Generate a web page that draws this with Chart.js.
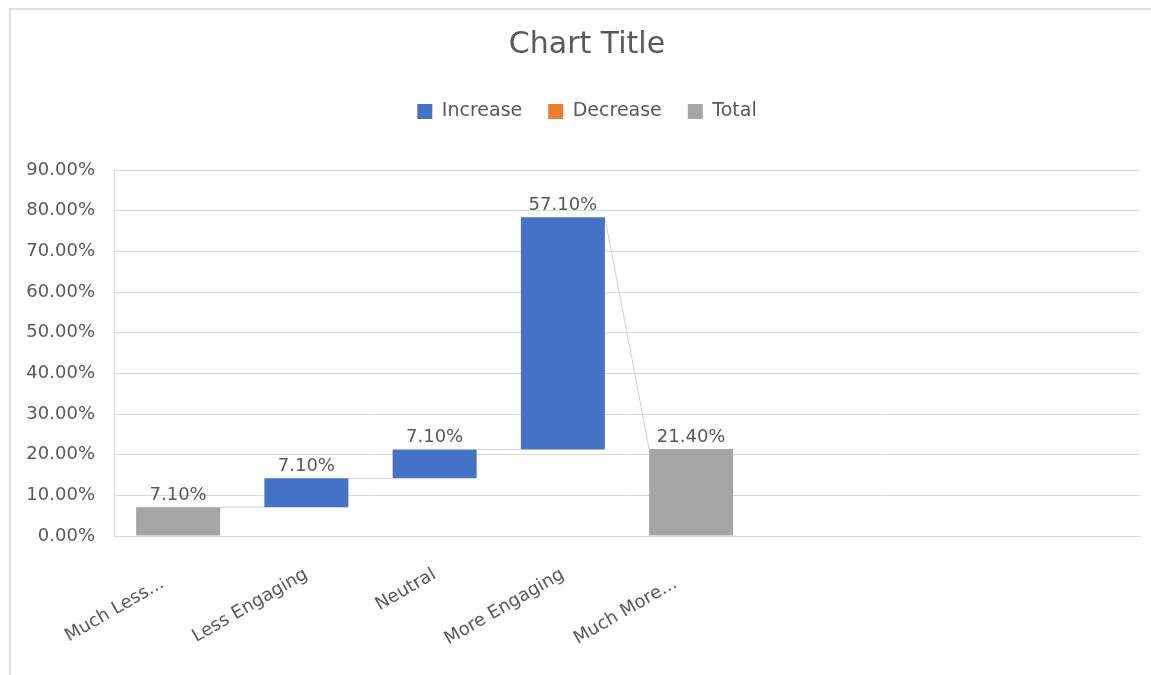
<!DOCTYPE html>
<html>
<head>
<meta charset="utf-8">
<script src="https://cdn.jsdelivr.net/npm/chart.js@4.4.1/dist/chart.umd.min.js"></script>
<style>
  html, body { margin: 0; padding: 0; background: #fff; overflow: hidden; width: 1151px; height: 675px; }
  #frame { position: absolute; left: 9px; top: 8px; width: 1200px; height: 700px;
           border-left: 2px solid #dedede; border-top: 2px solid #dedede; }
  #wrap { position: absolute; left: 10px; top: 9px; width: 1154px; height: 666px; }
</style>
</head>
<body>
<div id="frame"></div>
<div id="wrap"><canvas id="c" width="1154" height="666"></canvas></div>
<script>
// Waterfall steps
const categories = ['Much Less...', 'Less Engaging', 'Neutral', 'More Engaging', 'Much More...'];
const values = [7.1, 7.1, 7.1, 57.1, 21.4];
const kinds = ['total', 'increase', 'increase', 'increase', 'total'];
const blankSlots = 3;

// Legend series
const seriesNames = ['Increase', 'Decrease', 'Total'];
const seriesKinds = ['increase', 'decrease', 'total'];
const seriesColors = ['#4472C4', '#ED7D31', '#A5A5A5'];

// Value axis
const yMin = 0, yMax = 90, yStep = 10;

const FONT = '"DejaVu Sans", sans-serif';
const TEXT = '#595959';
const GRID = '#d9d9d9';

// Floating [start, end] range for every step
const ranges = [];
let level = 0;
values.forEach((v, i) => {
  let start, end;
  if (kinds[i] === 'total') { start = 0; end = v; }
  else if (kinds[i] === 'increase') { start = level; end = level + v; }
  else { start = level; end = level - v; }
  level = end;
  ranges.push([start, end]);
});

const labels = categories.concat(Array(blankSlots).fill(''));

const datasets = seriesNames.map((name, k) => ({
  label: name,
  data: labels.map((_, i) => (i < values.length && kinds[i] === seriesKinds[k]) ? ranges[i] : null),
  backgroundColor: seriesColors[k],
  borderWidth: 0,
  grouped: false,
  barPercentage: 0.655,
  categoryPercentage: 1
}));

// Connector lines between steps, value labels above each bar,
// extra gap under the legend and header boxes centred on the whole frame
const waterfallDecor = {
  id: 'waterfallDecor',
  beforeLayout(chart) {
    const lg = chart.legend;
    if (lg && !lg._extraGap) {
      const fit = lg.fit;
      lg.fit = function () { fit.call(this); this.height += 39; };
      lg._extraGap = true;
    }
  },
  afterLayout(chart) {
    [chart.titleBlock, chart.legend].forEach(b => { if (b) b.left += 10; });
  },
  beforeDatasetsDraw(chart) {
    const ctx = chart.ctx, y = chart.scales.y;
    const bars = values.map((v, i) => chart.getDatasetMeta(seriesKinds.indexOf(kinds[i])).data[i]);
    ctx.save();
    ctx.strokeStyle = '#d0d0d0';
    ctx.lineWidth = 1;
    for (let i = 0; i < values.length - 1; i++) {
      const a = bars[i], b = bars[i + 1];
      const y1 = y.getPixelForValue(ranges[i][1]);
      const y2 = y.getPixelForValue(kinds[i + 1] === 'total' ? ranges[i + 1][1] : ranges[i + 1][0]);
      ctx.beginPath();
      ctx.moveTo(a.x + a.width / 2, y1);
      ctx.lineTo(b.x - b.width / 2, y2);
      ctx.stroke();
    }
    ctx.restore();
  },
  afterDatasetsDraw(chart) {
    const ctx = chart.ctx, y = chart.scales.y;
    ctx.save();
    ctx.fillStyle = TEXT;
    ctx.font = '18px ' + FONT;
    ctx.textAlign = 'center';
    ctx.textBaseline = 'alphabetic';
    values.forEach((v, i) => {
      const bar = chart.getDatasetMeta(seriesKinds.indexOf(kinds[i])).data[i];
      const top = y.getPixelForValue(Math.max(ranges[i][0], ranges[i][1]));
      ctx.fillText(v.toFixed(2) + '%', bar.x, top - 7);
    });
    ctx.restore();
  }
};

new Chart(document.getElementById('c'), {
  type: 'bar',
  data: { labels, datasets },
  plugins: [waterfallDecor],
  options: {
    responsive: false,
    animation: false,
    devicePixelRatio: 1,
    layout: { padding: { left: 14, right: 24, top: 0, bottom: 0 } },
    plugins: {
      title: {
        display: true,
        text: 'Chart Title',
        color: TEXT,
        font: { family: FONT, size: 30, weight: 'normal' },
        padding: { top: 18, bottom: 13 }
      },
      legend: {
        display: true,
        position: 'top',
        labels: {
          boxWidth: 15, boxHeight: 15, padding: 26,
          color: TEXT,
          font: { family: FONT, size: 19 }
        }
      },
      tooltip: { enabled: false }
    },
    scales: {
      x: {
        grid: { display: false },
        border: { display: true, color: GRID },
        ticks: {
          color: TEXT, font: { family: FONT, size: 18 },
          autoSkip: false, minRotation: 30, maxRotation: 30, padding: 20,
          // truncated category names keep a little room after the ellipsis
          callback(value) {
            const name = this.getLabelForValue(value);
            return name.endsWith('...') ? name + '\u2002\u2002' : name;
          }
        },
        afterFit(s) { s.height = 139; }
      },
      y: {
        min: yMin, max: yMax,
        ticks: {
          stepSize: yStep, color: TEXT, font: { family: FONT, size: 18 }, padding: 19,
          callback: v => v.toFixed(2) + '%'
        },
        grid: { color: GRID, lineWidth: 1, drawTicks: false },
        border: { display: true, color: GRID },
        afterFit(s) { s.width = 90; }
      }
    }
  }
});
</script>
</body>
</html>
